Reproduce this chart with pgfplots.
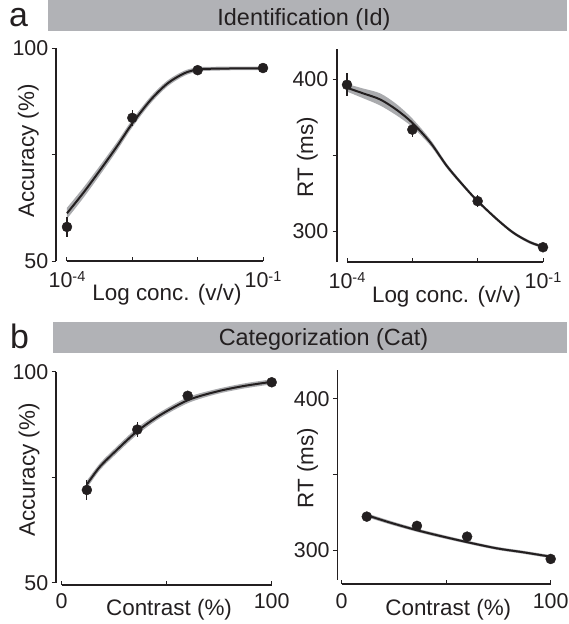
\documentclass[border=0pt]{standalone}
\usepackage{pgfplots}
\pgfplotsset{compat=1.18}
\usepackage{pgfplotstable}
\usepgfplotslibrary{fillbetween}
\usepackage{fontspec}
\setmainfont{Liberation Sans}

\definecolor{ink}{RGB}{35,31,32}
\definecolor{band}{RGB}{170,171,174}
\definecolor{header}{RGB}{177,178,182}

% ---- Identification: accuracy (log10 concentration, mean, sem)
\pgfplotstableread{
lx   y     e
-4   58.0  2.3
-3   83.6  1.8
-2   94.8  0.6
-1   95.3  0.5
}\idacc
\pgfplotstableread{
lx     fit    lo     hi
-4.00  61.2   59.9   62.5
-3.75  66.0   64.8   67.2
-3.49  71.4   70.3   72.5
-3.24  76.8   75.8   77.8
-3.00  82.3   81.4   83.2
-2.72  87.8   87.0   88.6
-2.46  91.7   91.0   92.4
-2.20  94.1   93.5   94.7
-1.98  95.0   94.5   95.5
-1.70  95.15  94.7   95.6
-1.40  95.2   94.8   95.6
-1.00  95.2   94.8   95.6
}\idaccfit

% ---- Identification: reaction time
\pgfplotstableread{
lx   y      e
-4   396.5  7.5
-3   367.0  4.6
-2   320.0  4.0
-1   289.7  2.0
}\idrt
\pgfplotstableread{
lx     fit    lo     hi
-4.00  394.5  392.0  397.0
-3.75  390.8  387.6  394.0
-3.49  386.8  382.8  390.8
-3.24  380.0  376.3  383.7
-3.00  371.5  368.7  374.3
-2.72  358.3  356.3  360.3
-2.47  343.0  341.5  344.5
-2.21  329.8  328.6  331.0
-2.00  320.0  318.9  321.1
-1.70  307.9  306.9  308.9
-1.45  299.1  298.1  300.1
-1.20  293.0  292.0  294.0
-1.00  290.0  289.0  291.0
}\idrtfit

% ---- Categorization: accuracy (contrast %, mean, sem)
\pgfplotstableread{
c    y     e
12   72.0  2.4
36   86.3  1.8
60   94.3  0.8
100  97.5  0.5
}\catacc
\pgfplotstableread{
c      fit   lo    hi
12.0   73.3  72.4  74.2
18.2   77.5  76.7  78.3
26.1   81.4  80.6  82.2
35.7   85.8  85.0  86.6
46.8   89.7  89.0  90.4
60.3   93.3  92.6  94.0
73.8   95.3  94.7  95.9
86.5   96.6  96.0  97.2
100.0  97.6  97.0  98.2
}\cataccfit

% ---- Categorization: reaction time
\pgfplotstableread{
c    y      e
12   322.4  1.5
36   316.3  1.5
60   309.2  1.5
100  294.5  1.5
}\catrt
\pgfplotstableread{
c      fit    lo     hi
11.6   323.5  322.2  324.8
23.1   318.5  317.3  319.7
35.6   313.6  312.5  314.7
47.0   309.7  308.6  310.8
60.3   305.5  304.5  306.5
74.2   301.5  300.5  302.5
86.9   298.9  297.9  299.9
100.0  296.0  295.0  297.0
}\catrtfit

\newcommand{\labelfont}{\fontsize{22.5}{25}\selectfont}
\newcommand{\tickfont}{\fontsize{21.5}{24}\selectfont}

\pgfplotsset{
  panel/.style={
    scale only axis,
    clip=false,
    axis x line*=bottom,
    axis y line*=left,
    axis line style={draw=none},
    xtick align=inside,
    ytick align=outside,
    major tick length=4.5bp,
    every tick/.style={ink, line width=1bp},
    every x tick label/.style={ink, font=\tickfont, anchor=base, inner sep=0pt},
    every y tick label/.style={ink, font=\tickfont, anchor=east, inner sep=0pt},
    every axis y label/.style={ink, font=\labelfont, rotate=90, anchor=base, inner sep=0pt},
    every axis x label/.style={ink, font=\labelfont, anchor=base, inner sep=0pt},
  },
  fitband/.style={band, draw=none},
  fitline/.style={ink, line width=2bp, smooth},
  means/.style={only marks, mark=*, mark size=5bp,
    mark options={ink, fill=ink},
    error bars/.cd, y dir=both, y explicit,
    error mark=none,
    error bar style={ink, line width=1.2bp}},
}

\newcommand{\tenpow}[1]{10\raisebox{5.5bp}{\fontsize{14.5}{15}\selectfont #1}}

\begin{document}
\begin{tikzpicture}
\path (0bp,0bp) rectangle (567bp,-624bp);

% section headers
\fill[header] (48bp,0bp) rectangle (567bp,-31bp);
\node[ink, anchor=base, inner sep=0pt, font=\fontsize{23.5}{26}\selectfont] at (304bp,-25bp) {Identification (Id)};
\node[ink, anchor=base west, inner sep=0pt, font=\fontsize{34}{36}\selectfont] at (9bp,-26bp) {a};
\fill[header] (53bp,-321.7bp) rectangle (567bp,-353bp);
\node[ink, anchor=base, inner sep=0pt, font=\fontsize{23.5}{26}\selectfont] at (323.5bp,-345bp) {Categorization (Cat)};
\node[ink, anchor=base west, inner sep=0pt, font=\fontsize{34}{36}\selectfont] at (10bp,-348bp) {b};

% ---------------- Id: accuracy
\begin{axis}[panel, at={(56bp,-261bp)}, anchor=south west,
  width=207bp, height=213bp,
  xmin=-4.168, xmax=-1, ymin=50, ymax=100,
  xtick={-4,-3,-2,-1}, xticklabels={\tenpow{-4},,,\tenpow{-1}},
  ytick={50,75,100}, yticklabels={50,,100},
  xticklabel style={yshift=-26bp},
  yticklabel style={xshift=-3bp},
  xlabel={Log conc. (v/v)}, ylabel={Accuracy (\%)},
  xlabel style={at={(axis description cs:0.536,0)}, yshift=-39bp},
  ylabel style={at={(axis description cs:-0.106,0.516)}},
]
\draw[ink, line width=1.3bp] (axis cs:-4.168,50) -- (axis cs:-4.168,100);
\draw[ink, line width=1.3bp] (axis cs:-4,50) -- (axis cs:-1,50);
\addplot[name path=u, draw=none, smooth] table[x=lx, y=hi] {\idaccfit};
\addplot[name path=l, draw=none, smooth] table[x=lx, y=lo] {\idaccfit};
\addplot[fitband] fill between[of=u and l];
\addplot[fitline] table[x=lx, y=fit] {\idaccfit};
\addplot[means] table[x=lx, y=y, y error=e] {\idacc};
\end{axis}

% ---------------- Id: reaction time
\begin{axis}[panel, at={(337bp,-262bp)}, anchor=south west,
  width=206bp, height=213bp,
  xmin=-4.153, xmax=-1, ymin=280, ymax=420,
  xtick={-4,-3,-2,-1}, xticklabels={\tenpow{-4},,,\tenpow{-1}},
  ytick={300,350,400}, yticklabels={300,,400},
  xticklabel style={yshift=-26bp},
  yticklabel style={xshift=-4bp},
  xlabel={Log conc. (v/v)}, ylabel={RT (ms)},
  xlabel style={at={(axis description cs:0.532,0)}, yshift=-40bp},
  ylabel style={at={(axis description cs:-0.1165,0.493)}},
]
\draw[ink, line width=1.3bp] (axis cs:-4.153,280) -- (axis cs:-4.153,420);
\draw[ink, line width=1.3bp] (axis cs:-4,280) -- (axis cs:-1,280);
\addplot[name path=u, draw=none, smooth] table[x=lx, y=hi] {\idrtfit};
\addplot[name path=l, draw=none, smooth] table[x=lx, y=lo] {\idrtfit};
\addplot[fitband] fill between[of=u and l];
\addplot[fitline] table[x=lx, y=fit] {\idrtfit};
\addplot[means] table[x=lx, y=y, y error=e] {\idrt};
\end{axis}

% ---------------- Cat: accuracy
\begin{axis}[panel, at={(56bp,-585bp)}, anchor=south west,
  width=215.7bp, height=213.3bp,
  xmin=-2.7, xmax=100, ymin=49.5, ymax=100,
  xtick={0,50,100}, xticklabels={0,,100},
  ytick={50,75,100}, yticklabels={50,,100},
  xticklabel style={yshift=-23bp},
  yticklabel style={xshift=-3bp},
  xlabel={Contrast (\%)}, ylabel={Accuracy (\%)},
  xlabel style={at={(axis description cs:0.524,0)}, yshift=-30bp},
  ylabel style={at={(axis description cs:-0.0974,0.539)}},
]
\draw[ink, line width=1.3bp] (axis cs:-2.7,50) -- (axis cs:-2.7,100);
\draw[ink, line width=1.3bp] (axis cs:0,49.5) -- (axis cs:100,49.5);
\addplot[name path=u, draw=none, smooth] table[x=c, y=hi] {\cataccfit};
\addplot[name path=l, draw=none, smooth] table[x=c, y=lo] {\cataccfit};
\addplot[fitband] fill between[of=u and l];
\addplot[fitline] table[x=c, y=fit] {\cataccfit};
\addplot[means] table[x=c, y=y, y error=e] {\catacc};
\end{axis}

% ---------------- Cat: reaction time
\begin{axis}[panel, at={(337.3bp,-584bp)}, anchor=south west,
  width=213.4bp, height=214bp,
  xmin=-2.1, xmax=100, ymin=278, ymax=419,
  xtick={0,50,100}, xticklabels={0,,100},
  ytick={300,350,400}, yticklabels={300,,400},
  xticklabel style={yshift=-24bp},
  yticklabel style={xshift=-3bp},
  xlabel={Contrast (\%)}, ylabel={RT (ms)},
  xlabel style={at={(axis description cs:0.52,0)}, yshift=-31bp},
  ylabel style={at={(axis description cs:-0.1125,0.542)}},
]
\draw[ink, line width=1.3bp] (axis cs:-2.1,280.7) -- (axis cs:-2.1,419);
\draw[ink, line width=1.3bp] (axis cs:0,278) -- (axis cs:100,278);
\addplot[name path=u, draw=none, smooth] table[x=c, y=hi] {\catrtfit};
\addplot[name path=l, draw=none, smooth] table[x=c, y=lo] {\catrtfit};
\addplot[fitband] fill between[of=u and l];
\addplot[fitline] table[x=c, y=fit] {\catrtfit};
\addplot[means] table[x=c, y=y, y error=e] {\catrt};
\end{axis}
\end{tikzpicture}
\end{document}
